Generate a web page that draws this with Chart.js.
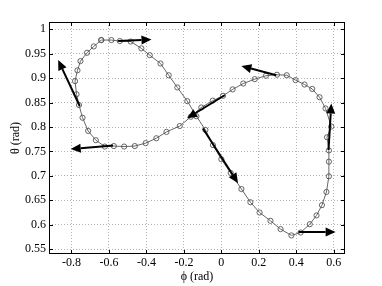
<!DOCTYPE html>
<html><head><meta charset="utf-8">
<script src="https://cdn.jsdelivr.net/npm/chart.js@4/dist/chart.umd.min.js"></script>
<style>html,body{margin:0;padding:0;background:#fff}#wrap{width:382px;height:286px}</style>
</head><body><div id="wrap"><canvas id="c" width="382" height="286"></canvas></div>
<script>
const phiValues = [-0.641,-0.587,-0.542,-0.484,-0.427,-0.382,-0.325,-0.281,-0.235,-0.182,-0.133,-0.085,-0.045,0.000,0.050,0.107,0.155,0.204,0.262,0.316,0.374,0.423,0.472,0.508,0.537,0.561,0.574,0.574,0.574,0.564,0.587,0.556,0.524,0.485,0.444,0.396,0.349,0.297,0.238,0.178,0.117,0.060,0.009,-0.046,-0.107,-0.163,-0.222,-0.293,-0.347,-0.404,-0.462,-0.519,-0.574,-0.622,-0.670,-0.711,-0.741,-0.760,-0.773,-0.781,-0.768,-0.752,-0.717,-0.681,-0.641];
const thetaValues = [0.978,0.978,0.976,0.975,0.961,0.947,0.930,0.906,0.881,0.853,0.822,0.794,0.763,0.734,0.706,0.673,0.646,0.625,0.608,0.591,0.578,0.584,0.601,0.619,0.640,0.667,0.699,0.729,0.752,0.779,0.801,0.838,0.861,0.878,0.887,0.896,0.906,0.907,0.905,0.898,0.889,0.877,0.864,0.854,0.840,0.821,0.802,0.790,0.777,0.767,0.761,0.760,0.761,0.760,0.773,0.792,0.819,0.845,0.867,0.894,0.916,0.935,0.952,0.965,0.978];
const arrowPhiStart   = [-0.551,-0.756,-0.578, 0.018,-0.098, 0.293, 0.572, 0.412];
const arrowThetaStart = [ 0.976, 0.843, 0.762, 0.865, 0.797, 0.906, 0.753, 0.585];
const arrowPhiEnd     = [-0.373,-0.871,-0.804,-0.183, 0.089, 0.107, 0.587, 0.610];
const arrowThetaEnd   = [ 0.979, 0.937, 0.755, 0.818, 0.685, 0.925, 0.848, 0.585];
const xTicks = [-0.8,-0.6,-0.4,-0.2,0,0.2,0.4,0.6];
const yTicks = [0.55,0.6,0.65,0.7,0.75,0.8,0.85,0.9,0.95,1];

const FONT = "'Liberation Serif', 'DejaVu Serif', serif";
const points = phiValues.map((p,i)=>({x:p,y:thetaValues[i]}));

const fmt = v => { const r = Math.round(v*100)/100; return r===0 ? '0' : String(r); };

const framePlugin = {
  id:'frame',
  afterDraw(chart){
    const {ctx, chartArea:a, scales:{x,y}} = chart;
    ctx.save();
    ctx.strokeStyle = '#000'; ctx.lineWidth = 1;
    ctx.strokeRect(Math.round(a.left)+0.5, Math.round(a.top)+0.5, Math.round(a.right-a.left)-1, Math.round(a.bottom-a.top)-1);
    const tl = 4;
    ctx.beginPath();
    xTicks.forEach(v=>{ const px = Math.round(x.getPixelForValue(v))+0.5;
      ctx.moveTo(px,a.bottom); ctx.lineTo(px,a.bottom-tl);
      ctx.moveTo(px,a.top); ctx.lineTo(px,a.top+tl); });
    yTicks.forEach(v=>{ const py = Math.round(y.getPixelForValue(v))+0.5;
      ctx.moveTo(a.left,py); ctx.lineTo(a.left+tl,py);
      ctx.moveTo(a.right,py); ctx.lineTo(a.right-tl,py); });
    ctx.stroke();
    // arrows
    ctx.fillStyle = '#000'; ctx.strokeStyle = '#000'; ctx.lineWidth = 2;
    for (let i=0;i<arrowPhiStart.length;i++){
      const x0 = x.getPixelForValue(arrowPhiStart[i]), y0 = y.getPixelForValue(arrowThetaStart[i]);
      const x1 = x.getPixelForValue(arrowPhiEnd[i]), y1 = y.getPixelForValue(arrowThetaEnd[i]);
      const ang = Math.atan2(y1-y0, x1-x0);
      const hl = 10, hw = 4.5;
      const bx = x1 - hl*Math.cos(ang), by = y1 - hl*Math.sin(ang);
      ctx.beginPath(); ctx.moveTo(x0,y0); ctx.lineTo(bx,by); ctx.stroke();
      ctx.beginPath();
      ctx.moveTo(x1,y1);
      ctx.lineTo(bx + hw*Math.sin(ang), by - hw*Math.cos(ang));
      ctx.lineTo(bx - hw*Math.sin(ang), by + hw*Math.cos(ang));
      ctx.closePath(); ctx.fill();
    }
    ctx.restore();
  }
};

new Chart(document.getElementById('c'), {
  type:'scatter',
  data:{datasets:[{
    data: points, showLine:true,
    borderColor:'#666', borderWidth:1,
    pointRadius:2.6, pointBorderWidth:0.9,
    pointBorderColor:'#555', pointBackgroundColor:'rgba(0,0,0,0)'
  }]},
  options:{
    responsive:false, animation:false,
    layout:{padding:{top:22,right:37,left:0,bottom:0}},
    plugins:{legend:{display:false}, tooltip:{enabled:false}},
    scales:{
      x:{
        type:'linear', min:-0.92, max:0.66,
        afterBuildTicks: s => { s.ticks = xTicks.map(v=>({value:v})); },
        afterFit: s => { s.height = 32; },
        ticks:{callback:fmt, font:{family:FONT,size:12}, color:'#000', padding:2, maxRotation:0, autoSkip:false},
        grid:{color:'#b4b4b4', lineWidth:1, drawTicks:false},
        border:{display:false, dash:[1,2]},
        title:{display:true, text:'ϕ (rad)', font:{family:FONT,size:12}, color:'#000', padding:{top:0,bottom:2}}
      },
      y:{
        type:'linear', min:0.54, max:1.015,
        afterBuildTicks: s => { s.ticks = yTicks.map(v=>({value:v})); },
        afterFit: s => { s.width = 49; },
        ticks:{callback:fmt, font:{family:FONT,size:12}, color:'#000', padding:3, autoSkip:false},
        grid:{color:'#b4b4b4', lineWidth:1, drawTicks:false},
        border:{display:false, dash:[1,2]},
        title:{display:true, text:'θ (rad)', font:{family:FONT,size:12}, color:'#000', padding:{top:9,bottom:0}}
      }
    }
  },
  plugins:[framePlugin]
});
</script></body></html>
